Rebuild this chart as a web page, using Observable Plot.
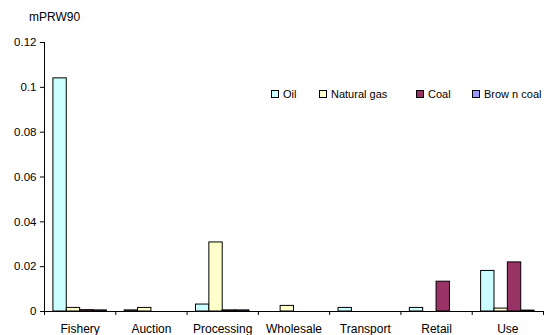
<!DOCTYPE html>
<html>
<head>
<meta charset="utf-8">
<script src="https://cdn.jsdelivr.net/npm/d3@7"></script>
<script src="https://cdn.jsdelivr.net/npm/@observablehq/plot@0.6"></script>
<style>
  body { margin: 0; background: #fff; font-family: "Liberation Sans", Arial, sans-serif; }
  #wrap { position: relative; width: 552px; height: 335px; overflow: hidden; }
  #title { position: absolute; left: 29px; top: 10px; font-size: 12px; color: #000; }
  #legend { position: absolute; left: 0; top: 87px; width: 552px; height: 14px; font-size: 11px; color: #000; }
  .item { position: absolute; top: 0; display: flex; align-items: center; white-space: nowrap; height: 14px; }
  .sw { width: 6px; height: 6px; border: 1px solid #000; margin-right: 4px; }
</style>
</head>
<body>
<div id="wrap">
  <div id="chart"></div>
  <div id="title">mPRW90</div>
  <div id="legend"></div>
</div>
<script>
const categories = ["Fishery", "Auction", "Processing", "Wholesale", "Transport", "Retail", "Use"];
const seriesNames = ["Oil", "Natural gas", "Coal", "Brow n coal"];
const seriesColors = ["#CCFFFF", "#FFFFCC", "#993366", "#9999FF"];
const oil       = [0.104, 0.0005, 0.0031, 0,      0.0016, 0.0016, 0.0181];
const naturalGas= [0.0016, 0.0016, 0.0308, 0.0025, 0,     0,      0.0013];
const coal      = [0.0006, 0,      0.0005, 0,      0,     0.0133, 0.0219];
const brownCoal = [0.0005, 0,      0.0005, 0,      0,     0,      0.0004];
const yTicks = [0, 0.02, 0.04, 0.06, 0.08, 0.1, 0.12];

const seriesValues = [oil, naturalGas, coal, brownCoal];
const barW = 0.1875, pad = 0.125;
const rows = [];
categories.forEach((c, g) => {
  seriesValues.forEach((vals, s) => {
    rows.push({category: c, series: seriesNames[s], value: vals[g],
               x1: g + pad + s * barW, x2: g + pad + (s + 1) * barW});
  });
});

const plot = Plot.plot({
  width: 552,
  height: 335,
  marginLeft: 44,
  marginRight: 9,
  marginTop: 42,
  marginBottom: 24,
  style: {fontFamily: "'Liberation Sans', Arial, sans-serif", fontSize: "11px", color: "#000", background: "#fff"},
  x: {type: "linear", domain: [0, categories.length]},
  y: {domain: [0, 0.12]},
  color: {domain: seriesNames, range: seriesColors},
  marks: [
    Plot.rectY(rows, {x1: "x1", x2: "x2", y: "value", fill: "series", stroke: "#000", strokeWidth: 1}),
    Plot.ruleY([0], {stroke: "#000"}),
    Plot.ruleX([0], {y1: 0, y2: 0.12, stroke: "#000"}),
    Plot.axisY({ticks: yTicks, tickSize: 4, tickPadding: 4, tickFormat: d => String(d), label: null, fontSize: 11.5}),
    Plot.axisX({ticks: d3.range(0, categories.length + 1), tickSize: 4, tickFormat: () => "", label: null}),
    Plot.axisX({ticks: categories.map((c, i) => i + 0.5), tickSize: 0, tickPadding: 13, tickFormat: d => categories[Math.floor(d)], label: null, fontSize: 12})
  ]
});
document.getElementById("chart").appendChild(plot);

const legend = document.getElementById("legend");
const legendLeft = [271, 319, 416, 472];
seriesNames.forEach((n, i) => {
  const it = document.createElement("div");
  it.className = "item";
  it.style.left = legendLeft[i] + "px";
  const sw = document.createElement("div");
  sw.className = "sw";
  sw.style.background = seriesColors[i];
  const t = document.createElement("span");
  t.textContent = n;
  it.appendChild(sw); it.appendChild(t);
  legend.appendChild(it);
});
</script>
</body>
</html>
